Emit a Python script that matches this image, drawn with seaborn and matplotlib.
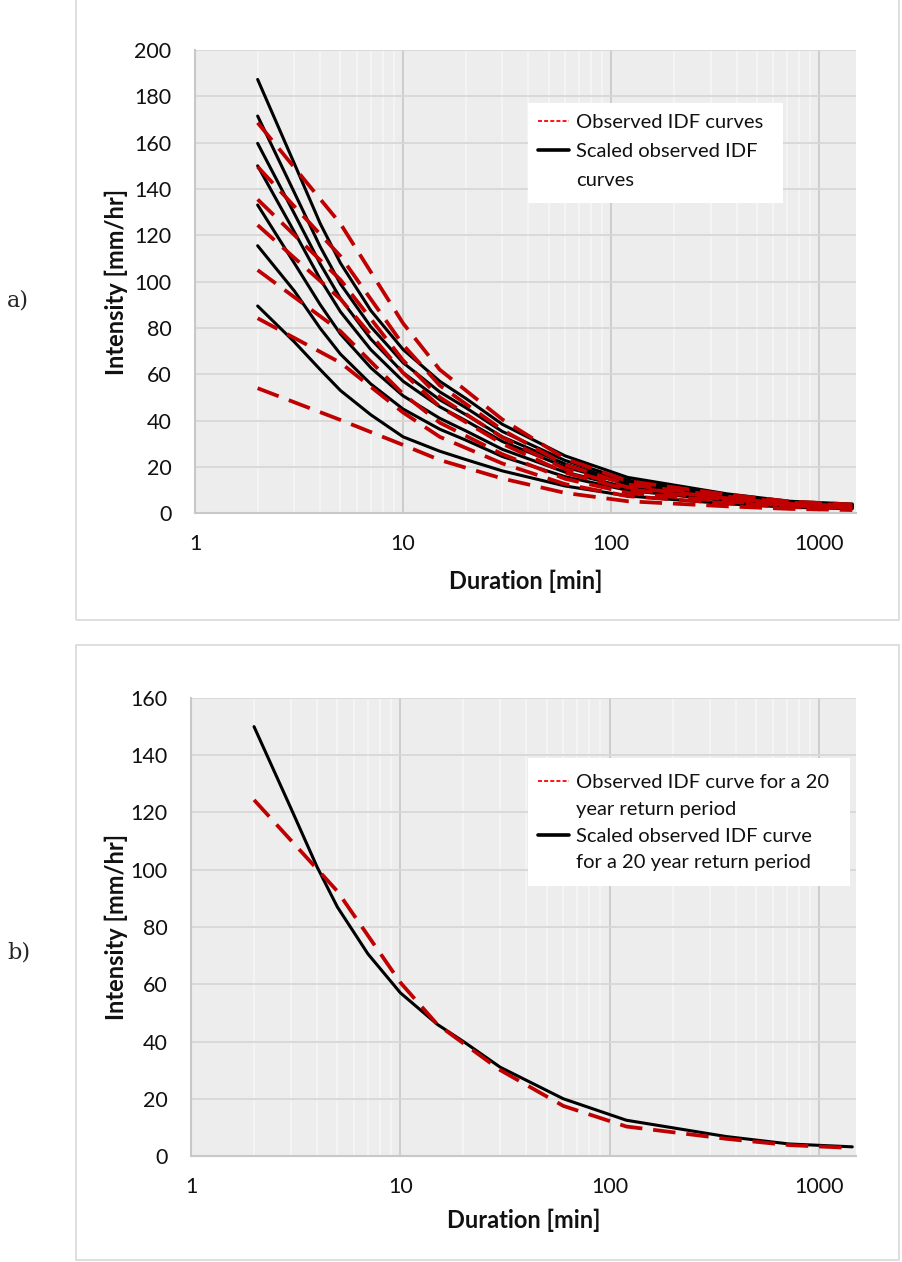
import matplotlib
matplotlib.use("Agg")
import matplotlib.pyplot as plt
import seaborn as sns
import numpy as np
import pandas as pd
from matplotlib.lines import Line2D
from matplotlib.patches import Rectangle
from matplotlib.ticker import LogLocator, NullFormatter, FixedLocator

# ---------------- data ----------------
# durations [min]
dur_obs = [2, 5, 10, 15, 30, 60, 120, 360, 720, 1440]
dur_scaled = [2, 3, 4, 5, 7, 10, 15, 20, 30, 60, 120, 360, 720, 1440]

# panel a: observed IDF curves (red dashed), intensity [mm/hr]
obs_r1 = [168.6, 125.0, 82.0, 62.0, 40.5, 23.6, 13.9, 8.1, 5.1, 3.8]
obs_r2 = [149.6, 111.0, 72.7, 55.2, 36.0, 21.0, 12.4, 7.2, 4.6, 3.4]
obs_r3 = [135.5, 100.8, 66.0, 50.1, 32.7, 19.1, 11.2, 6.5, 4.1, 3.1]
obs_r4 = [124.4, 92.5, 60.6, 46.0, 30.0, 17.5, 10.3, 6.0, 3.8, 2.8]
obs_r5 = [105.0, 78.6, 51.5, 39.1, 25.5, 14.9, 8.8, 5.1, 3.2, 2.4]
obs_r6 = [84.2, 65.0, 43.5, 33.0, 21.5, 12.6, 7.4, 4.3, 2.7, 2.0]
obs_r7 = [54.0, 40.3, 29.5, 23.0, 15.0, 8.8, 5.2, 3.0, 1.9, 1.4]

# panel a: scaled observed IDF curves (black solid)
sc_b1 = [187.3, 151.0, 125.0, 108.0, 87.5, 70.7, 57.0, 49.6, 38.4, 24.8, 15.5, 8.4, 5.2, 4.0]
sc_b2 = [171.5, 138.5, 115.0, 99.0, 80.5, 65.0, 52.4, 45.6, 35.3, 22.8, 14.3, 7.8, 4.8, 3.6]
sc_b3 = [159.7, 129.4, 107.6, 92.7, 75.2, 60.7, 49.0, 42.6, 33.0, 21.3, 13.3, 7.2, 4.5, 3.4]
sc_b4 = [150.0, 121.5, 101.0, 87.0, 70.6, 57.0, 46.0, 40.0, 31.0, 20.0, 12.5, 6.8, 4.2, 3.2]
sc_b5 = [133.1, 108.0, 90.0, 77.4, 62.8, 50.7, 41.0, 35.6, 27.6, 17.8, 11.1, 6.1, 3.7, 2.8]
sc_b6 = [115.5, 96.0, 79.8, 68.7, 55.8, 45.0, 36.3, 31.6, 24.5, 15.8, 9.9, 5.4, 3.3, 2.5]
sc_b7 = [89.5, 74.0, 62.0, 53.0, 42.5, 33.0, 26.8, 23.2, 18.3, 11.8, 7.5, 4.1, 2.6, 2.0]

# panel b: 20-year return period
obs_20yr = [124.4, 92.5, 60.6, 46.0, 30.0, 17.5, 10.3, 6.0, 3.8, 2.8]
sc_20yr = [150.0, 121.5, 101.0, 87.0, 70.6, 57.0, 46.0, 40.0, 31.0, 20.0, 12.5, 6.8, 4.2, 3.2]

obs_series_a = [obs_r1, obs_r2, obs_r3, obs_r4, obs_r5, obs_r6, obs_r7]
sc_series_a = [sc_b1, sc_b2, sc_b3, sc_b4, sc_b5, sc_b6, sc_b7]

x_ticks = [1, 10, 100, 1000]
x_ticklabels = ["1", "10", "100", "1000"]

legend_a = ["Observed IDF curves", "Scaled observed IDF", "curves"]
legend_b = ["Observed IDF curve for a 20", "year return period",
            "Scaled observed IDF curve", "for a 20 year return period"]

# ---------------- style ----------------
sns.set_theme(style="white")
plt.rcParams["font.family"] = ["Lato", "DejaVu Sans"]

W, H = 902, 1262
fig = plt.figure(figsize=(W / 100, H / 100), dpi=100)

RED = "#C00000"
BLACK = "#000000"
red_kw = dict(color=RED, linewidth=2.7, linestyle=(0, (6.0, 2.9)))
blk_kw = dict(color=BLACK, linewidth=2.2, linestyle="-")

# panel frames
for (x0, y0, x1, y1) in [(76, -3, 899, 620), (76, 645, 899, 1260)]:
    fig.patches.append(Rectangle((x0 / W, 1 - y1 / H), (x1 - x0) / W, (y1 - y0) / H,
                                 transform=fig.transFigure, fill=False,
                                 edgecolor="#D9D9D9", linewidth=1.2))

A_L, A_R, A_T, A_B = 195, 856, 50, 513.3
B_L, B_R, B_T, B_B = 191, 856, 698, 1156
axA = fig.add_axes([A_L / W, 1 - A_B / H, (A_R - A_L) / W, (A_B - A_T) / H])
axB = fig.add_axes([B_L / W, 1 - B_B / H, (B_R - B_L) / W, (B_B - B_T) / H])


def style(ax, ymax, ylab_x, xlab_y):
    ax.set_xscale("log")
    ax.set_xlim(1, 1500)
    ax.set_ylim(0, ymax)
    ax.set_facecolor("#EDEDED")
    ax.yaxis.set_major_locator(FixedLocator(list(range(0, ymax + 1, 20))))
    ax.xaxis.set_major_locator(FixedLocator(x_ticks))
    ax.set_xticklabels(x_ticklabels)
    ax.xaxis.set_minor_locator(LogLocator(base=10, subs=np.arange(2, 10)))
    ax.xaxis.set_minor_formatter(NullFormatter())
    ax.set_axisbelow(True)
    ax.grid(which="minor", axis="x", color="#F5F5F5", linewidth=1.3)
    ax.grid(which="major", axis="x", color="#CACACA", linewidth=1.3)
    ax.grid(which="major", axis="y", color="#D7D7D7", linewidth=1.3)
    ax.tick_params(which="both", length=0)
    ax.tick_params(axis="y", pad=17, labelsize=15.5, labelcolor="#111111")
    ax.tick_params(axis="x", pad=15, labelsize=15.5, labelcolor="#111111")
    for s in ["top", "right"]:
        ax.spines[s].set_visible(False)
    for s in ["left", "bottom"]:
        ax.spines[s].set_color("#C8C8C8")
        ax.spines[s].set_linewidth(1.5)
    ax.set_xlabel("Duration [min]", fontsize=17, fontweight="bold", color="#111111")
    ax.set_ylabel("Intensity [mm/hr]", fontsize=17, fontweight="bold", color="#111111")
    ax.yaxis.set_label_coords(ylab_x, 0.5)
    ax.xaxis.set_label_coords(0.5, xlab_y)


# ---- panel a ----
for vals in sc_series_a:
    sns.lineplot(x=dur_scaled, y=vals, ax=axA, zorder=2, **blk_kw)
for vals in obs_series_a:
    sns.lineplot(x=dur_obs, y=vals, ax=axA, zorder=3, **red_kw)
style(axA, 200, -(A_L - 128) / (A_R - A_L), -(570 - A_B) / (A_B - A_T))

# ---- panel b ----
sns.lineplot(x=dur_scaled, y=sc_20yr, ax=axB, zorder=2, **blk_kw)
sns.lineplot(x=dur_obs, y=obs_20yr, ax=axB, zorder=3, **red_kw)
style(axB, 160, -(B_L - 128) / (B_R - B_L), -(1209 - B_B) / (B_B - B_T))

# legends
h_red = Line2D([], [], color="#FF0000", linewidth=1.3, linestyle=(0, (2.2, 1.2)))
h_blk = Line2D([], [], color="black", linewidth=2.6)
h_none = Line2D([], [], color="none", linewidth=0)


def legend_box(ax, L, R, T, Bt, x0, y0, x1, y1, handles, labels, first_text_y, spacing):
    wid = R - L
    hei = Bt - T
    ax.add_patch(Rectangle(((x0 - L) / wid, (Bt - y1) / hei), (x1 - x0) / wid,
                           (y1 - y0) / hei, transform=ax.transAxes,
                           facecolor="white", edgecolor="none", zorder=4))
    fs = 14.5
    fpx = fs * 100 / 72
    lab_sp = (spacing - 0.88 * fpx) / fpx
    bp = 10 / fpx
    top_anchor = first_text_y - bp * fpx - 0.44 * fpx
    leg = ax.legend(handles, labels, loc="upper left",
                    bbox_to_anchor=((x0 - L) / wid, (Bt - top_anchor) / hei),
                    frameon=False, fontsize=fs, handlelength=1.55, handletextpad=0.36,
                    labelspacing=lab_sp, borderpad=bp, borderaxespad=0)
    leg.set_zorder(6)
    for t in leg.get_texts():
        t.set_color("#111111")
    return leg


legend_box(axA, A_L, A_R, A_T, A_B, 528, 103, 783, 203, [h_red, h_blk, h_none], legend_a, 123, 29.5)
legend_box(axB, B_L, B_R, B_T, B_B, 528, 758, 850, 886, [h_red, h_none, h_blk, h_none], legend_b, 783, 27.3)

# panel labels
fig.text(7 / W, 1 - 300 / H, "a)", fontsize=16, family=["DejaVu Serif"], va="center", ha="left")
fig.text(7 / W, 1 - 953 / H, "b)", fontsize=16, family=["DejaVu Serif"], va="center", ha="left")

fig.savefig("out.png", dpi=100)
